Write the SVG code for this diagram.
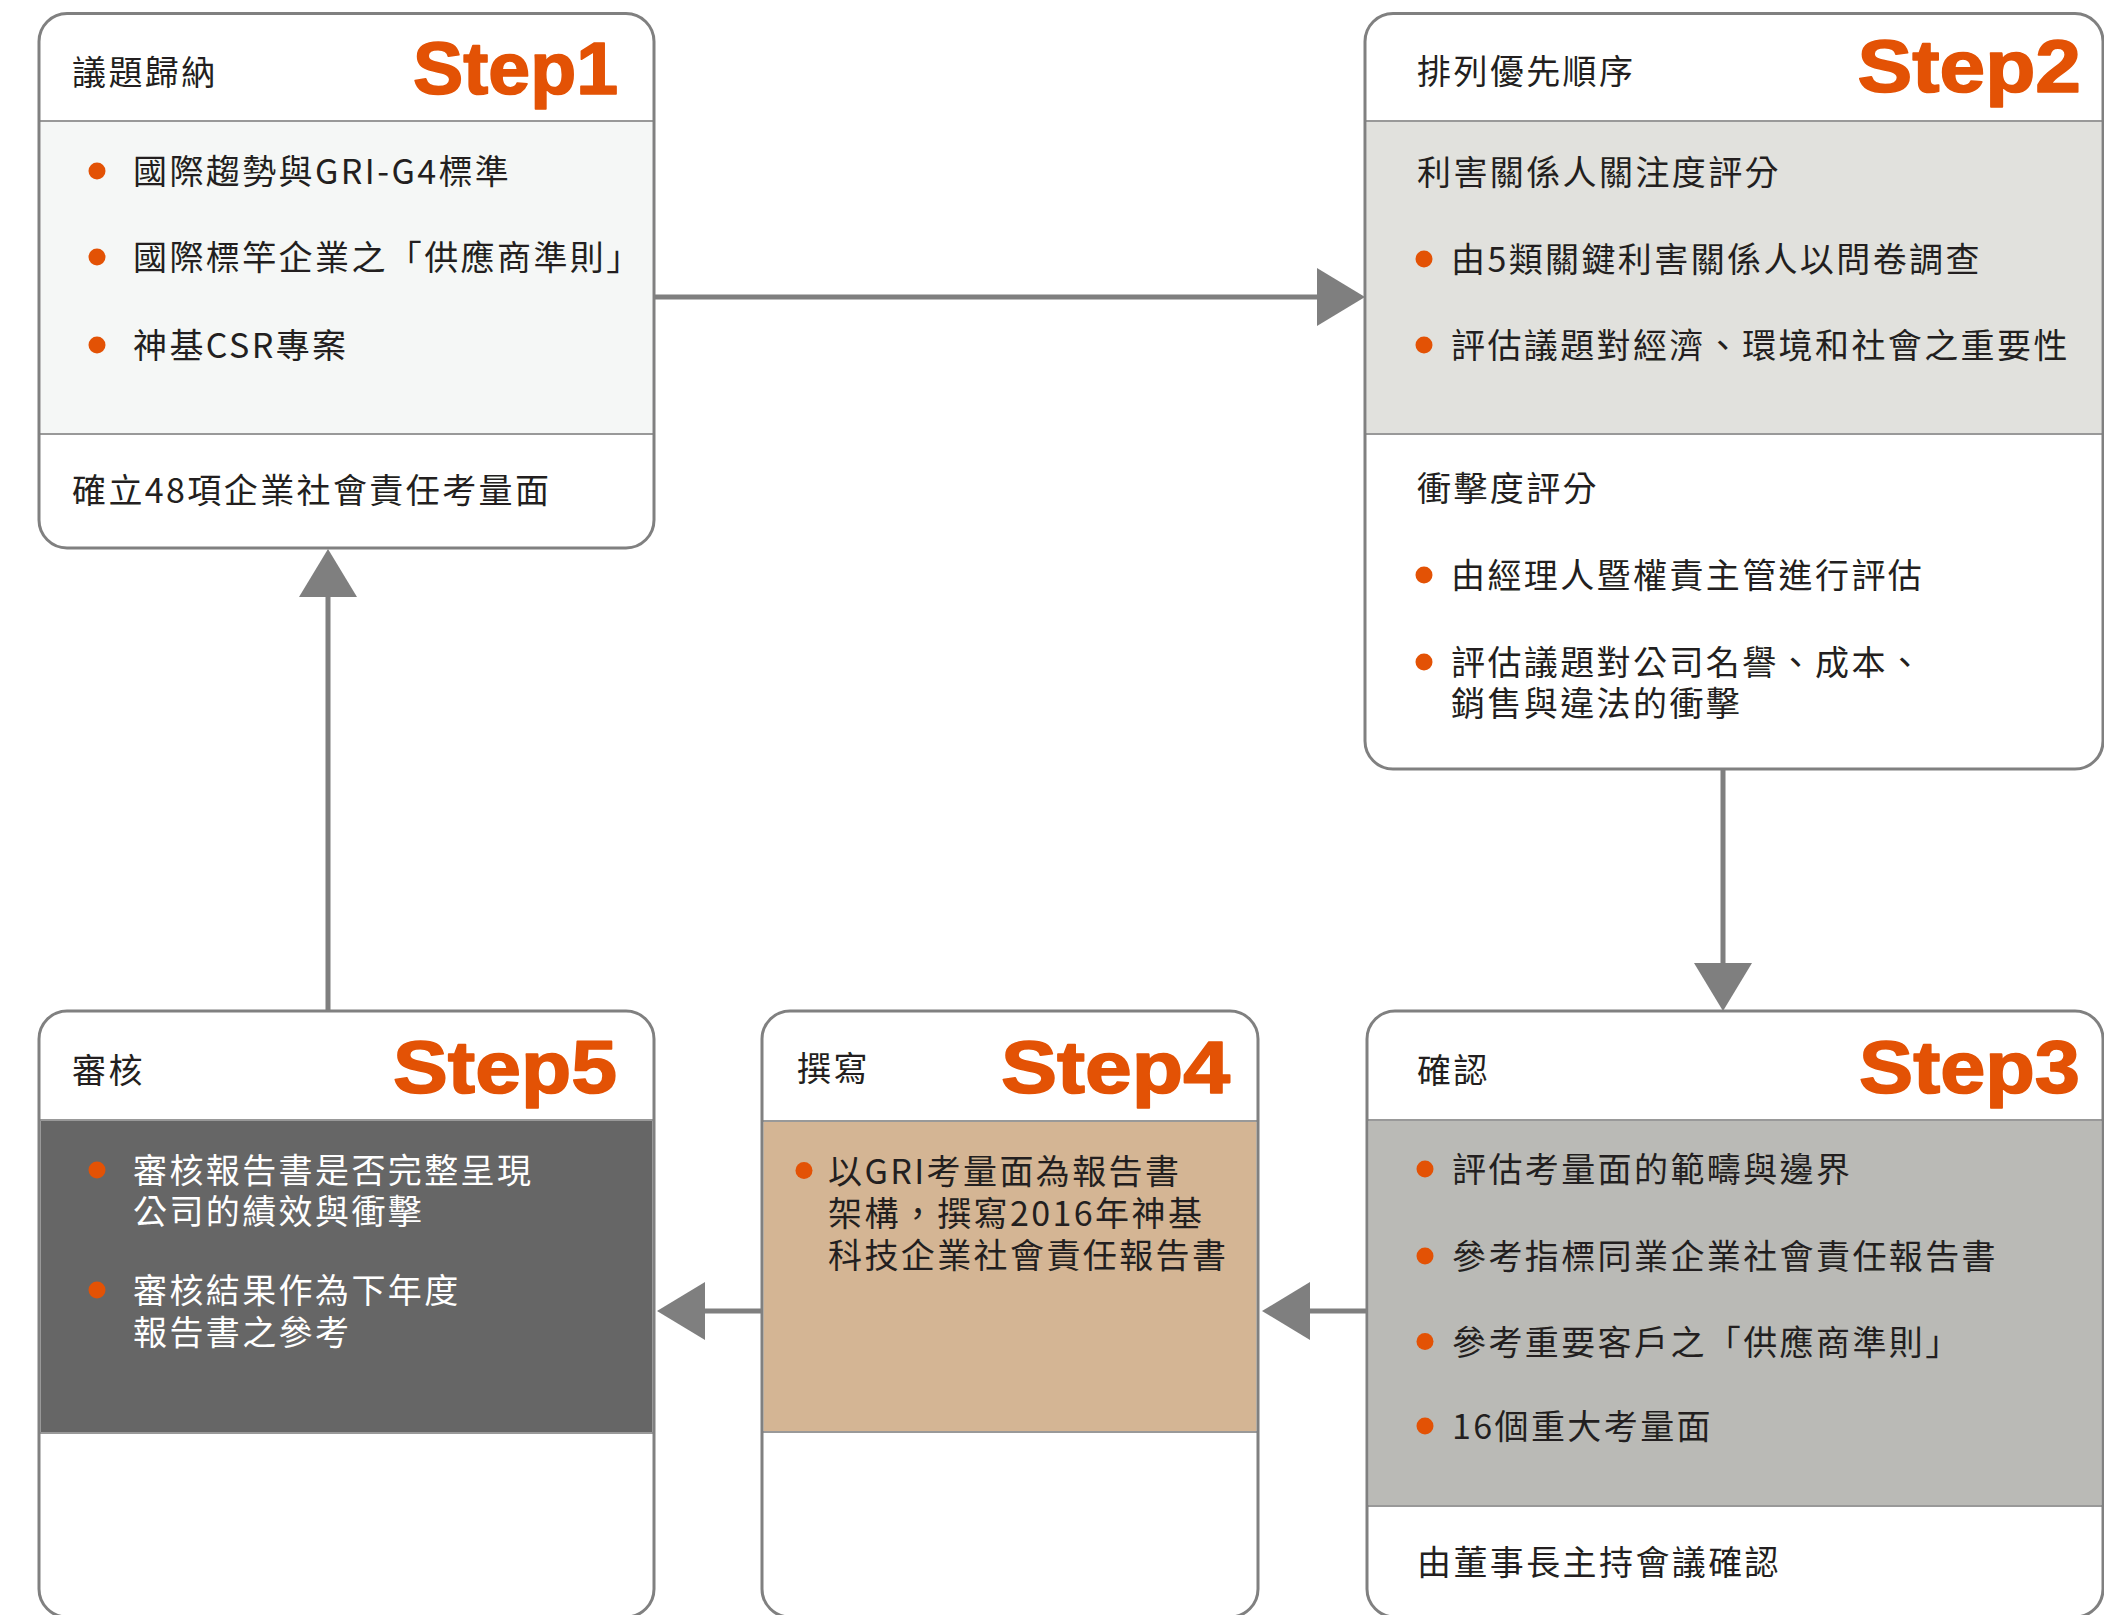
<svg xmlns="http://www.w3.org/2000/svg" width="2104" height="1615" viewBox="0 0 2104 1615">
<style>
.box{fill:none;stroke:#808080;stroke-width:3}
.bg{fill:#ffffff}
.sep{stroke:#999999;stroke-width:2}
.t{font-family:"Noto Sans CJK TC","Noto Sans CJK SC",sans-serif;font-size:34px;letter-spacing:2.4px;fill:#231f20}
.w{fill:#ffffff}
.step{font-family:"Liberation Sans",Arial,sans-serif;font-weight:bold;font-size:74px;fill:#e35205;stroke:#e35205;stroke-width:1.6;stroke-linejoin:round}
.dot{fill:#e35205}
.conn{stroke:#7f7f7f;stroke-width:5;fill:none}
</style>
<defs>
<marker id="ah" markerUnits="userSpaceOnUse" markerWidth="48" markerHeight="58" refX="0" refY="29" orient="auto">
<path d="M0,0 L48,29 L0,58 Z" fill="#7f7f7f"/>
</marker>
</defs>
<rect width="2104" height="1615" fill="#ffffff"/>

<g id="connectors">
<line class="conn" x1="654" y1="297" x2="1317" y2="297" marker-end="url(#ah)"/>
<line class="conn" x1="1723" y1="769" x2="1723" y2="963" marker-end="url(#ah)"/>
<line class="conn" x1="1367" y1="1311" x2="1310" y2="1311" marker-end="url(#ah)"/>
<line class="conn" x1="762" y1="1311" x2="705" y2="1311" marker-end="url(#ah)"/>
<line class="conn" x1="328" y1="1011" x2="328" y2="597" marker-end="url(#ah)"/>
</g>

<g id="step1">
<rect class="bg" x="39" y="13.5" width="615" height="534.5" rx="28"/>
<rect x="40.5" y="121" width="612" height="313" fill="#f5f7f6"/>
<line class="sep" x1="39" y1="121" x2="654" y2="121"/>
<line class="sep" x1="39" y1="434" x2="654" y2="434"/>
<rect class="box" x="39" y="13.5" width="615" height="534.5" rx="28"/>
<text class="t" x="72" y="85">議題歸納</text>
<text class="step" x="413" y="94" textLength="205" lengthAdjust="spacingAndGlyphs">Step1</text>
<circle class="dot" cx="97" cy="171" r="8.5"/>
<text class="t" x="133" y="184">國際趨勢與GRI-G4標準</text>
<circle class="dot" cx="97" cy="257" r="8.5"/>
<text class="t" x="133" y="270">國際標竿企業之「供應商準則」</text>
<circle class="dot" cx="97" cy="345" r="8.5"/>
<text class="t" x="133" y="358">神基CSR專案</text>
<text class="t" x="72" y="503">確立48項企業社會責任考量面</text>
</g>

<g id="step2">
<rect class="bg" x="1365" y="13.5" width="738" height="755.5" rx="28"/>
<rect x="1366.5" y="121" width="735" height="313" fill="#e1e1dd"/>
<line class="sep" x1="1365" y1="121" x2="2103" y2="121"/>
<line class="sep" x1="1365" y1="434" x2="2103" y2="434"/>
<rect class="box" x="1365" y="13.5" width="738" height="755.5" rx="28"/>
<text class="t" x="1417" y="84">排列優先順序</text>
<text class="step" x="1857.5" y="92" textLength="223.5" lengthAdjust="spacingAndGlyphs">Step2</text>
<text class="t" x="1417" y="185">利害關係人關注度評分</text>
<circle class="dot" cx="1424" cy="259" r="8.5"/>
<text class="t" x="1451" y="272">由5類關鍵利害關係人以問卷調查</text>
<circle class="dot" cx="1424" cy="345" r="8.5"/>
<text class="t" x="1451" y="358">評估議題對經濟、環境和社會之重要性</text>
<text class="t" x="1417" y="501">衝擊度評分</text>
<circle class="dot" cx="1424" cy="575" r="8.5"/>
<text class="t" x="1451" y="588">由經理人暨權責主管進行評估</text>
<circle class="dot" cx="1424" cy="662" r="8.5"/>
<text class="t" x="1451" y="675"><tspan x="1451" y="675">評估議題對公司名譽、成本、</tspan><tspan x="1451" y="715.5">銷售與違法的衝擊</tspan></text>
</g>

<g id="step3">
<rect class="bg" x="1367" y="1011" width="736" height="606" rx="28"/>
<rect x="1368.5" y="1120" width="733" height="386" fill="#babab6"/>
<line class="sep" x1="1367" y1="1120" x2="2103" y2="1120"/>
<line class="sep" x1="1367" y1="1506" x2="2103" y2="1506"/>
<rect class="box" x="1367" y="1011" width="736" height="606" rx="28"/>
<text class="t" x="1417" y="1083">確認</text>
<text class="step" x="1859" y="1093" textLength="221" lengthAdjust="spacingAndGlyphs">Step3</text>
<circle class="dot" cx="1425" cy="1169" r="8.5"/>
<text class="t" x="1452" y="1182">評估考量面的範疇與邊界</text>
<circle class="dot" cx="1425" cy="1256" r="8.5"/>
<text class="t" x="1452" y="1269">參考指標同業企業社會責任報告書</text>
<circle class="dot" cx="1425" cy="1341.5" r="8.5"/>
<text class="t" x="1452" y="1354.5">參考重要客戶之「供應商準則」</text>
<circle class="dot" cx="1425" cy="1426" r="8.5"/>
<text class="t" x="1452" y="1439">16個重大考量面</text>
<text class="t" x="1417" y="1575">由董事長主持會議確認</text>
</g>

<g id="step4">
<rect class="bg" x="762" y="1011" width="496" height="606" rx="28"/>
<rect x="763.5" y="1121" width="493" height="311" fill="#d4b594"/>
<line class="sep" x1="762" y1="1121" x2="1258" y2="1121"/>
<line class="sep" x1="762" y1="1432" x2="1258" y2="1432"/>
<rect class="box" x="762" y="1011" width="496" height="606" rx="28"/>
<text class="t" x="797" y="1081">撰寫</text>
<text class="step" x="1001" y="1093" textLength="229" lengthAdjust="spacingAndGlyphs">Step4</text>
<circle class="dot" cx="804" cy="1170.5" r="8.5"/>
<text class="t" x="828" y="1184"><tspan x="828" y="1184">以GRI考量面為報告書</tspan><tspan x="828" y="1226">架構，撰寫2016年神基</tspan><tspan x="828" y="1268">科技企業社會責任報告書</tspan></text>
</g>

<g id="step5">
<rect class="bg" x="39" y="1011" width="615" height="606" rx="28"/>
<rect x="40.5" y="1120" width="612" height="313" fill="#666666"/>
<line class="sep" x1="39" y1="1120" x2="654" y2="1120"/>
<line class="sep" x1="39" y1="1433" x2="654" y2="1433"/>
<rect class="box" x="39" y="1011" width="615" height="606" rx="28"/>
<text class="t" x="72" y="1083">審核</text>
<text class="step" x="393" y="1093" textLength="224" lengthAdjust="spacingAndGlyphs">Step5</text>
<circle class="dot" cx="97" cy="1170" r="8.5"/>
<text class="t w" x="133" y="1183"><tspan x="133" y="1183">審核報告書是否完整呈現</tspan><tspan x="133" y="1224">公司的績效與衝擊</tspan></text>
<circle class="dot" cx="97" cy="1290" r="8.5"/>
<text class="t w" x="133" y="1303"><tspan x="133" y="1303">審核結果作為下年度</tspan><tspan x="133" y="1344.5">報告書之參考</tspan></text>
</g>
</svg>
